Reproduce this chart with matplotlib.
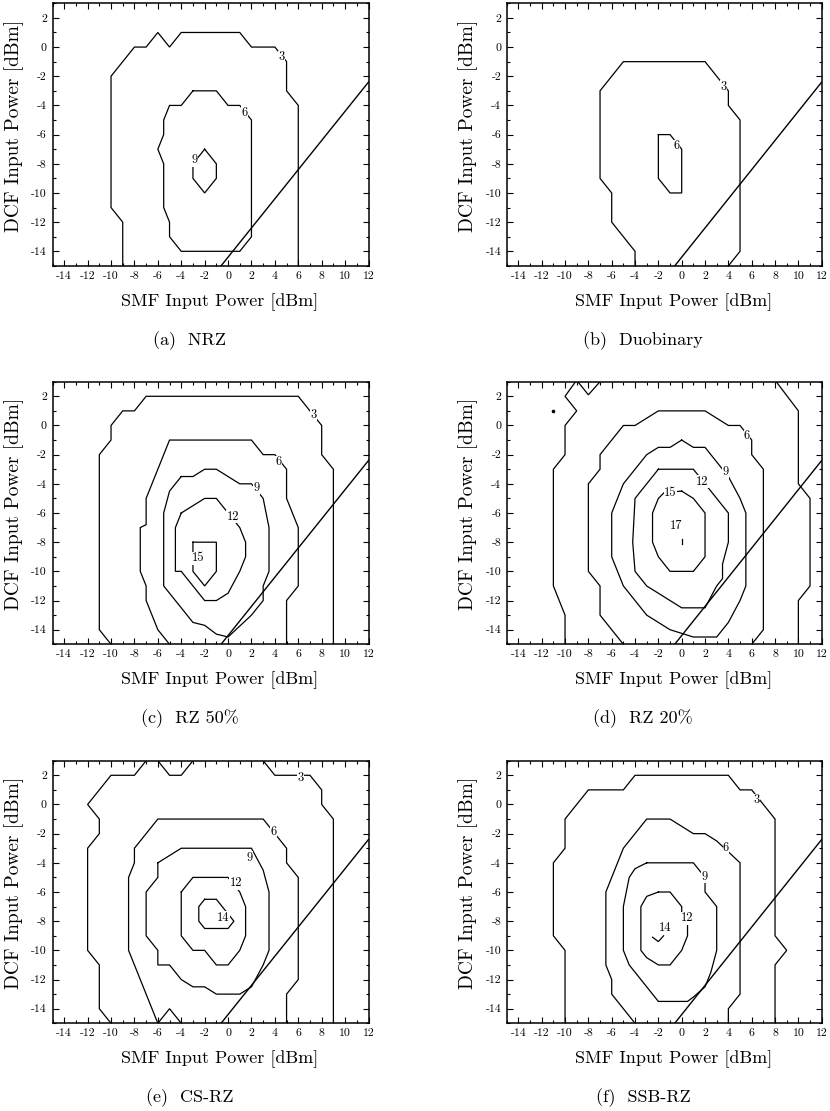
import matplotlib
matplotlib.use("Agg")
import matplotlib.pyplot as plt
from matplotlib.ticker import MultipleLocator, FixedLocator, FixedFormatter

plt.rcParams['font.family'] = ['cmr10', 'DejaVu Serif']
plt.rcParams['axes.unicode_minus'] = False
plt.rcParams['mathtext.fontset'] = 'cm'

# ---------------- data ----------------
X_TICKS = [-14, -12, -10, -8, -6, -4, -2, 0, 2, 4, 6, 8, 10, 12]
Y_TICKS = [-14, -12, -10, -8, -6, -4, -2, 0, 2]
X_LIM = (-15, 12)
Y_LIM = (-15, 3)
X_LABEL = "SMF Input Power [dBm]"
Y_LABEL = "DCF Input Power [dBm]"
CAPTIONS = ["(a)  NRZ", "(b)  Duobinary", "(c)  RZ 50%", "(d)  RZ 20%", "(e)  CS-RZ", "(f)  SSB-RZ"]

# limit line (common to all panels)
DIAG_X = [-0.6, 12]
DIAG_Y = [-15, -2.4]

# (a) NRZ
NRZ_C3_X = [-9, -9, -10, -10, -8, -7, -6, -5, -4, 1, 2, 4, 5, 5, 6, 6]
NRZ_C3_Y = [-15, -12, -11, -2, 0, 0, 1, 0, 1, 1, 0, 0, -1, -3, -4, -15]
NRZ_C6_X = [-3, -1, 0, 1, 2, 2, 1, -4, -5, -5, -5.5, -5.5, -6, -5.5, -5.5, -5, -4, -3]
NRZ_C6_Y = [-3, -3, -4, -4, -5, -13, -14, -14, -13, -12, -11, -8, -7, -6, -5, -4, -4, -3]
NRZ_C9_X = [-2, -1, -1, -2, -3, -3, -2]
NRZ_C9_Y = [-7, -8, -9, -10, -9, -8, -7]
NRZ_LABELS = [("3", 4.6, -0.7), ("6", 1.4, -4.5), ("9", -2.85, -7.75)]

# (b) Duobinary
DUO_C3_X = [-4, -4, -6, -6, -7, -7, -5, 2, 4, 4, 5, 5, 4]
DUO_C3_Y = [-15, -14, -12, -10, -9, -3, -1, -1, -3, -4, -5, -14, -15]
DUO_C6_X = [-2, -1, 0, 0, -1, -2, -2]
DUO_C6_Y = [-6, -6, -7, -10, -10, -9, -6]
DUO_LABELS = [("3", 3.6, -2.7), ("6", -0.45, -6.8)]

# (c) RZ 50%
RZ50_C3_X = [-10, -11, -11, -10, -10, -9, -8, -7, 6, 8, 8, 9, 9]
RZ50_C3_Y = [-15, -14, -2, -1, 0, 1, 1, 2, 2, 0, -2, -3, -15]
RZ50_C6_X = [-5, -6, -7, -7, -7.5, -7.5, -7, -7, -5, 2, 3, 4, 5, 5, 6, 6, 5, 5]
RZ50_C6_Y = [-15, -14, -12, -11, -10, -7, -6.8, -5, -1, -1, -2, -2, -3, -5, -7, -11, -12, -15]
RZ50_C9_X = [-4, -3, -2, -1, 1, 2, 3, 3.5, 3.5, 3, 3, 2, 0, -1, -2, -3, -4.5, -5.5, -5.5, -5, -4]
RZ50_C9_Y = [-3.5, -3.5, -3, -3, -4, -4, -5, -7, -10, -11, -12, -13, -14.5, -14.3, -13.7, -13.5, -12, -11, -6, -4.5, -3.5]
RZ50_C12_X = [-4, -3, -2, -1, 0, 1, 1.5, 1.5, 1, 0, -1, -2, -3, -4, -4.5, -4.5, -4]
RZ50_C12_Y = [-6, -5.5, -5, -5, -6, -7, -8, -9, -10, -11.5, -12, -12, -11, -10, -10, -7, -6]
RZ50_C15_X = [-3, -1, -1, -2, -3, -3]
RZ50_C15_Y = [-8, -8, -10, -11, -10, -8]
RZ50_LABELS = [("3", 7.3, 0.75), ("6", 4.3, -2.5), ("9", 2.4, -4.3), ("12", 0.4, -6.25), ("15", -2.55, -9.1)]

# (d) RZ 20%
RZ20_DOT_X = [-11]
RZ20_DOT_Y = [1]
RZ20_C3A_X = [-10, -10, -11, -11, -10, -10, -9, -10, -9.1]
RZ20_C3A_Y = [-15, -13, -11, -3, -2, 0, 1, 2, 3]
RZ20_C3B_X = [-8.9, -8, -7]
RZ20_C3B_Y = [3, 2.1, 3]
RZ20_C3C_X = [8.1, 10, 10, 11, 11, 10, 10]
RZ20_C3C_Y = [3, 1, -4, -5, -11, -12, -15]
RZ20_C6_X = [-5, -7, -7, -8, -8, -7, -7, -5, -4, -2, 2, 4, 5, 6, 6, 7, 7, 6]
RZ20_C6_Y = [-15, -13, -11, -10, -4, -3, -2, 0, 0, 1, 1, 0, 0, -1, -2, -3, -14, -15]
RZ20_C9_X = [0, 1, 2, 4, 5, 5.5, 5.5, 5, 4, 3, 1, -1, -3, -4, -5, -6, -6, -5, -4, -3, -2, -1, 0]
RZ20_C9_Y = [-1, -1.5, -1.5, -3.5, -5, -6, -11, -12, -13.5, -14.5, -14.5, -14, -13, -12, -11, -9, -6, -4, -3, -2, -1.5, -1.5, -1]
RZ20_C12_X = [-2, 1, 2, 3, 4, 4, 3.5, 3.5, 3, 2, 0, -1, -3, -4, -4.2, -4, -3, -2]
RZ20_C12_Y = [-3, -3, -4, -5, -6, -8, -9.5, -10.5, -11, -12.5, -12.5, -12, -11, -10, -8, -5, -4, -3]
RZ20_C15_X = [0, 1, 2, 2, 1, -1, -2, -2.5, -2.5, -2, -1.5, 0]
RZ20_C15_Y = [-4.5, -5, -6, -9, -10, -10, -9, -8, -6, -5, -4.6, -4.5]
RZ20_C17_X = [0, 0]
RZ20_C17_Y = [-7.8, -8.15]
RZ20_LABELS = [("6", 5.6, -0.75), ("9", 3.75, -3.2), ("12", 1.75, -3.85), ("15", -0.95, -4.6), ("17", -0.45, -6.9)]

# (e) CS-RZ
CSRZ_C3A_X = [-10, -11, -11, -12, -12, -11, -11, -12, -10, -8, -7]
CSRZ_C3A_Y = [-15, -14, -11, -10, -3, -2, -1, 0, 2, 2, 3]
CSRZ_C3B_X = [-6, -5, -4, -3]
CSRZ_C3B_Y = [3, 2, 2, 3]
CSRZ_C3C_X = [3, 4, 7, 8, 8, 9, 9]
CSRZ_C3C_Y = [3, 2, 2, 1, 0, -1, -15]
CSRZ_C6A_X = [-6, -8, -8.5, -8.5, -8, -8, -6, 3, 4, 5, 5, 6, 6, 5, 5]
CSRZ_C6A_Y = [-15, -11, -10, -5, -4, -3, -1, -1, -2, -3, -4, -5, -12, -13, -15]
CSRZ_C6B_X = [-6, -5, -4]
CSRZ_C6B_Y = [-15, -14, -15]
CSRZ_C9_X = [-6, -4, 2, 3, 3.5, 3.5, 3, 2, 1, -1, -2, -3, -4, -5, -6, -6, -7, -7, -6, -6]
CSRZ_C9_Y = [-4, -3, -3, -4.5, -6, -10, -11, -12.5, -13, -13, -12.5, -12.5, -12, -11, -11, -10, -9, -6, -5, -4]
CSRZ_C12_X = [-4, -3, 0, 1, 1.5, 1.5, 1, 0, -1, -2, -3, -4, -4]
CSRZ_C12_Y = [-6, -5, -5, -6, -7, -9, -10, -11, -11, -10, -10, -9, -6]
CSRZ_C14_X = [-2, -1, -0.5, 0.5, 0, -2, -2.5, -2.5, -2]
CSRZ_C14_Y = [-6.5, -6.5, -7, -8, -8.5, -8.5, -8, -7, -6.5]
CSRZ_LABELS = [("3", 6.2, 1.8), ("6", 3.9, -1.9), ("9", 1.8, -3.65), ("12", 0.65, -5.4), ("14", -0.4, -7.75)]

# (f) SSB-RZ
SSB_C3_X = [-10, -10, -11, -11, -10, -10, -8, -5, -4, 4, 5, 6, 8, 8, 9, 8, 8]
SSB_C3_Y = [-15, -10, -9, -4, -3, -1, 1, 1, 2, 2, 1, 1, -1, -9, -10, -11, -15]
SSB_C6_X = [-4, -6, -6, -6.5, -6.5, -5, -3, -1, 1, 2, 3, 5, 5, 4, 4]
SSB_C6_Y = [-15, -13, -12, -11, -6, -3, -1, -1, -2, -2, -2.5, -4, -13, -14, -15]
SSB_C9_X = [-3, 1, 2, 2, 3, 3, 2.5, 2, 1, 0.5, -2, -3, -4.5, -5, -5, -4.5, -4, -3]
SSB_C9_Y = [-4, -4, -5, -6, -7, -10, -11.5, -12.5, -13.2, -13.5, -13.5, -12.5, -11, -10, -7, -5, -4.4, -4]
SSB_C12_X = [-2, -1, 0, 0, 0.5, 0.5, 0, -1, -2, -3, -3.5, -3.5, -3, -2]
SSB_C12_Y = [-6, -6, -7, -7.5, -8.2, -9, -10, -11, -11, -10.5, -10, -7, -6.3, -6]
SSB_C14_X = [-2.5, -2, -1.55]
SSB_C14_Y = [-9.1, -9.4, -9.0]
SSB_LABELS = [("3", 6.4, 0.3), ("6", 3.8, -2.95), ("9", 1.95, -4.95), ("12", 0.5, -7.8), ("14", -1.4, -8.45)]

PANELS = [
    ([(NRZ_C3_X, NRZ_C3_Y), (NRZ_C6_X, NRZ_C6_Y), (NRZ_C9_X, NRZ_C9_Y)], NRZ_LABELS),
    ([(DUO_C3_X, DUO_C3_Y), (DUO_C6_X, DUO_C6_Y)], DUO_LABELS),
    ([(RZ50_C3_X, RZ50_C3_Y), (RZ50_C6_X, RZ50_C6_Y), (RZ50_C9_X, RZ50_C9_Y),
      (RZ50_C12_X, RZ50_C12_Y), (RZ50_C15_X, RZ50_C15_Y)], RZ50_LABELS),
    ([(RZ20_C3A_X, RZ20_C3A_Y), (RZ20_C3B_X, RZ20_C3B_Y), (RZ20_C3C_X, RZ20_C3C_Y),
      (RZ20_C6_X, RZ20_C6_Y), (RZ20_C9_X, RZ20_C9_Y), (RZ20_C12_X, RZ20_C12_Y),
      (RZ20_C15_X, RZ20_C15_Y), (RZ20_C17_X, RZ20_C17_Y)], RZ20_LABELS),
    ([(CSRZ_C3A_X, CSRZ_C3A_Y), (CSRZ_C3B_X, CSRZ_C3B_Y), (CSRZ_C3C_X, CSRZ_C3C_Y),
      (CSRZ_C6A_X, CSRZ_C6A_Y), (CSRZ_C6B_X, CSRZ_C6B_Y), (CSRZ_C9_X, CSRZ_C9_Y),
      (CSRZ_C12_X, CSRZ_C12_Y), (CSRZ_C14_X, CSRZ_C14_Y)], CSRZ_LABELS),
    ([(SSB_C3_X, SSB_C3_Y), (SSB_C6_X, SSB_C6_Y), (SSB_C9_X, SSB_C9_Y),
      (SSB_C12_X, SSB_C12_Y), (SSB_C14_X, SSB_C14_Y)], SSB_LABELS),
]

# ---------------- layout ----------------
W, H = 830, 1111
fig = plt.figure(figsize=(W / 100, H / 100), dpi=100)

col_left = [52.5, 506.7]
col_width = [316.0, 315.0]
row_top = [3.3, 381.7, 760.7]
ax_h = 262.6
cap_center = [189.5, 643.0]

for i, (lines, labels) in enumerate(PANELS):
    r, c = divmod(i, 2)
    left = col_left[c] / W
    bottom = 1 - (row_top[r] + ax_h) / H
    ax = fig.add_axes([left, bottom, col_width[c] / W, ax_h / H])
    for xs, ys in lines:
        ax.plot(xs, ys, color='black', lw=0.9, solid_joinstyle='miter')
    if i == 3:
        ax.plot(RZ20_DOT_X, RZ20_DOT_Y, 'o', color='black', ms=1.6)
    ax.plot(DIAG_X, DIAG_Y, color='black', lw=1.0)
    for s, x, y in labels:
        ax.text(x, y, s, ha='center', va='center', fontsize=9,
                bbox=dict(facecolor='white', edgecolor='none', pad=0.3), zorder=5)
    ax.set_xlim(*X_LIM)
    ax.set_ylim(*Y_LIM)
    ax.xaxis.set_major_locator(FixedLocator(X_TICKS))
    ax.xaxis.set_major_formatter(FixedFormatter([str(t) for t in X_TICKS]))
    ax.yaxis.set_major_locator(FixedLocator(Y_TICKS))
    ax.yaxis.set_major_formatter(FixedFormatter([str(t) for t in Y_TICKS]))
    ax.xaxis.set_minor_locator(MultipleLocator(1))
    ax.yaxis.set_minor_locator(MultipleLocator(1))
    ax.tick_params(which='both', direction='in', top=True, right=True, width=0.8, labelsize=8.5)
    ax.tick_params(which='major', length=4, pad=4)
    ax.tick_params(which='minor', length=2.2)
    for sp in ax.spines.values():
        sp.set_linewidth(1.1)
    ax.text(0.529, -40 / ax_h, X_LABEL, transform=ax.transAxes, ha='center', va='baseline', fontsize=13)
    ax.text(-38.5 / col_width[c], 0.533, Y_LABEL, transform=ax.transAxes, ha='center', va='center',
            rotation=90, fontsize=14)
    cap_base = row_top[r] + ax_h + 79
    fig.text(cap_center[c] / W, 1 - cap_base / H, CAPTIONS[i], ha='center', va='baseline', fontsize=13)

fig.savefig("out.png", dpi=100)
